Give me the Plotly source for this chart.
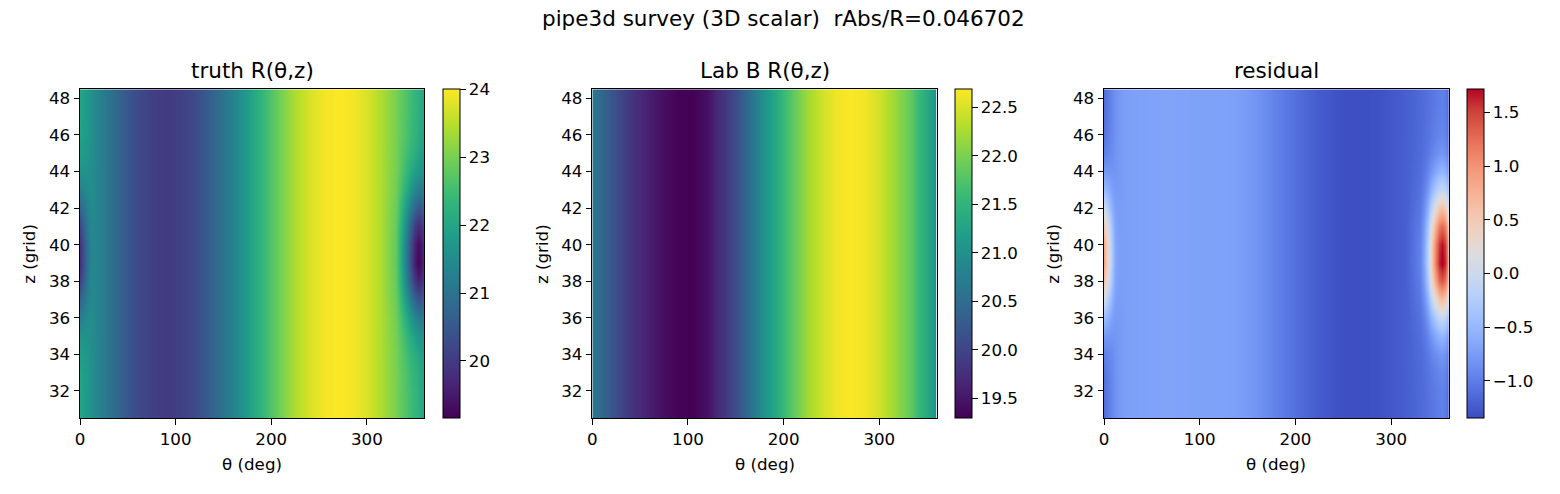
import plotly.graph_objects as go

# ---------------- data ----------------
theta = [0, 4, 8, 12, 16, 22, 30, 45, 60, 75, 90, 105, 120, 135, 150, 165, 180,
         195, 210, 225, 240, 255, 270, 285, 300, 315, 330, 334, 338, 342, 346,
         350, 353, 356, 358, 360]
z_grid = [31, 32, 33, 34, 35, 36, 37, 38, 39, 40, 41, 42, 43, 44, 45, 46, 47, 48]

truth_base = [22.0, 21.86, 21.72, 21.58, 21.45, 21.25, 21.0, 20.59, 20.27, 20.07,
              20.0, 20.07, 20.27, 20.59, 21.0, 21.48, 22.0, 22.52, 23.0, 23.41,
              23.73, 23.93, 24.0, 23.93, 23.73, 23.41, 23.0, 22.88, 22.75, 22.62,
              22.48, 22.35, 22.24, 22.14, 22.07, 22.0]
labB_base = [20.65, 20.56, 20.47, 20.38, 20.3, 20.16, 20.0, 19.75, 19.58, 19.42,
             19.32, 19.3, 19.45, 19.78, 20.1, 20.55, 21.03, 21.45, 21.85, 22.2,
             22.45, 22.62, 22.68, 22.62, 22.45, 22.2, 21.9, 21.8, 21.68, 21.56,
             21.45, 21.33, 21.24, 21.14, 21.07, 21.0]
resid_base = [-1.12, -1.02, -0.92, -0.84, -0.78, -0.74, -0.72, -0.70, -0.69, -0.69,
              -0.70, -0.70, -0.70, -0.72, -0.77, -0.86, -0.97, -1.07, -1.16, -1.24,
              -1.30, -1.33, -1.33, -1.31, -1.27, -1.22, -1.15, -1.12, -1.09, -1.06,
              -1.03, -1.00, -0.99, -1.02, -1.10, -1.20]

# local dent (near theta=0/360, z~39): weight across theta and across z
dent_theta = [0.72, 0.47, 0.22, 0.07, 0.015, 0, 0, 0, 0, 0, 0, 0, 0, 0, 0, 0, 0,
              0, 0, 0, 0, 0, 0, 0, 0, 0, 0.07, 0.17, 0.34, 0.55, 0.77,
              0.95, 1.0, 0.95, 0.85, 0.72]
dent_z = [0.002, 0.008, 0.025, 0.07, 0.17, 0.35, 0.6, 0.86, 1.0, 0.97, 0.82,
          0.58, 0.34, 0.17, 0.07, 0.025, 0.008, 0.002]
truth_dent_depth = -3.0
labB_dent_depth = 0.0
resid_dent_depth = 2.75

truth_range = [19.155, 24.005]
labB_range = [19.294, 22.686]
resid_range = [-1.348, 1.717]

truth_ticks = [20, 21, 22, 23, 24]
labB_ticks = [19.5, 20.0, 20.5, 21.0, 21.5, 22.0, 22.5]
resid_ticks = [-1.0, -0.5, 0.0, 0.5, 1.0, 1.5]
x_ticks = [0, 100, 200, 300]
y_ticks = [32, 34, 36, 38, 40, 42, 44, 46, 48]

suptitle = "pipe3d survey (3D scalar)  rAbs/R=0.046702"
titles = ["truth R(θ,z)", "Lab B R(θ,z)", "residual"]


def field(base, depth):
    return [[b + depth * wt * wz for b, wt in zip(base, dent_theta)] for wz in dent_z]


truth = field(truth_base, truth_dent_depth)
labB = field(labB_base, labB_dent_depth)
resid = field(resid_base, resid_dent_depth)

coolwarm = [
    [0.0, "rgb(59,76,192)"], [0.0625, "rgb(77,104,215)"], [0.125, "rgb(98,130,234)"],
    [0.1875, "rgb(119,154,246)"], [0.25, "rgb(141,176,254)"], [0.3125, "rgb(163,194,254)"],
    [0.375, "rgb(184,208,249)"], [0.4375, "rgb(204,217,238)"], [0.5, "rgb(221,220,220)"],
    [0.5625, "rgb(236,211,197)"], [0.625, "rgb(245,196,173)"], [0.6875, "rgb(247,176,148)"],
    [0.75, "rgb(244,154,123)"], [0.8125, "rgb(236,127,99)"], [0.875, "rgb(222,96,77)"],
    [0.9375, "rgb(203,62,56)"], [1.0, "rgb(180,4,38)"],
]

W, H = 1560, 494
plot_x = [(80.0, 424.3), (592.3, 936.7), (1104.0, 1448.7)]
cbar_x = [443.3, 955.3, 1467.3]
top_px, bot_px = 89.3, 418.3

FONT = "DejaVu Sans"
TICK = 16.7
TITLE = 21.5
fig = go.Figure()

datasets = [
    (truth, "Viridis", truth_range, truth_ticks, ".0f"),
    (labB, "Viridis", labB_range, labB_ticks, ".1f"),
    (resid, coolwarm, resid_range, resid_ticks, ".1f"),
]

for i, (zz, cs, rng, tks, fmt) in enumerate(datasets):
    xa = "x" if i == 0 else f"x{i+1}"
    ya = "y" if i == 0 else f"y{i+1}"
    fig.add_trace(go.Heatmap(
        x=theta, y=z_grid, z=zz, colorscale=cs, zmin=rng[0], zmax=rng[1],
        zsmooth="best", xaxis=xa, yaxis=ya,
        colorbar=dict(
            x=cbar_x[i] / W, xanchor="left", xpad=0, ypad=0,
            y=1 - top_px / H, yanchor="top", len=bot_px - top_px, lenmode="pixels",
            thickness=16.5, thicknessmode="pixels",
            outlinewidth=1, outlinecolor="black",
            tickvals=tks, tickformat=fmt, ticks="outside", ticklen=5.5, tickwidth=1,
            tickcolor="black", tickfont=dict(family=FONT, size=TICK, color="black"),
        ),
    ))
    axis_common = dict(showline=True, linecolor="black", linewidth=1, mirror=True,
                       ticks="outside", ticklen=5.5, tickwidth=1, tickcolor="black",
                       tickfont=dict(family=FONT, size=TICK, color="black"),
                       showgrid=False, zeroline=False, automargin=False)
    x0, x1 = plot_x[i]
    fig.update_layout({
        ("xaxis" if i == 0 else f"xaxis{i+1}"): dict(
            domain=[x0 / W, x1 / W], range=[0, 360], tickvals=x_ticks,
            anchor=ya, **axis_common),
        ("yaxis" if i == 0 else f"yaxis{i+1}"): dict(
            domain=[1 - bot_px / H, 1 - top_px / H], range=[30.5, 48.5],
            tickvals=y_ticks, anchor=xa, **axis_common),
    })
    cx = (x0 + x1) / 2
    fig.add_annotation(text=titles[i], x=cx / W, y=1 - 71 / H, xref="paper", yref="paper",
                       xanchor="center", yanchor="middle", showarrow=False,
                       font=dict(family=FONT, size=TITLE, color="black"))
    fig.add_annotation(text="θ (deg)", x=cx / W, y=1 - 464 / H, xref="paper", yref="paper",
                       xanchor="center", yanchor="middle", showarrow=False,
                       font=dict(family=FONT, size=TICK, color="black"))
    fig.add_annotation(text="z (grid)", x=(x0 - 51) / W, y=1 - (top_px + bot_px) / 2 / H,
                       xref="paper", yref="paper", textangle=-90,
                       xanchor="center", yanchor="middle", showarrow=False,
                       font=dict(family=FONT, size=TICK, color="black"))

fig.add_annotation(text=suptitle, x=783 / W, y=1 - 19 / H, xref="paper", yref="paper",
                   xanchor="center", yanchor="middle", showarrow=False,
                   font=dict(family=FONT, size=TITLE, color="black"))

fig.update_layout(width=W, height=H, margin=dict(l=0, r=0, t=0, b=0, autoexpand=False),
                  paper_bgcolor="white", plot_bgcolor="white", showlegend=False)

fig.write_html("out.html")
